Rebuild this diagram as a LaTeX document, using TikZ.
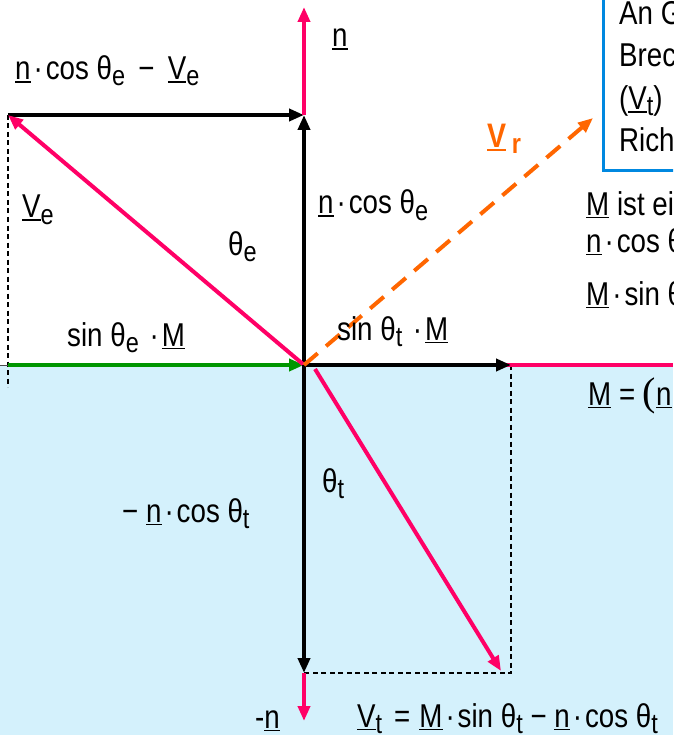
\documentclass[tikz,border=0pt]{standalone}
\usepackage{fontspec}
\setmainfont{Liberation Sans}[FakeStretch=0.84]
\newfontfamily\serifparen{Liberation Serif}
\usetikzlibrary{arrows.meta}
\definecolor{pinkv}{RGB}{255,0,102}
\definecolor{greenv}{RGB}{0,150,0}
\definecolor{orangev}{RGB}{255,102,0}
\definecolor{boxblue}{RGB}{0,136,224}
\definecolor{water}{RGB}{212,241,252}
\newcommand\ul[1]{\vtop{\hbox{#1}\kern1.5pt\hrule height 1.6pt}}
\newcommand\sbx[1]{\raisebox{-6pt}{\fontsize{28}{28}\selectfont #1}}
\newcommand\dt{\hspace{3pt}·\hspace{3pt}}
\begin{document}
\begin{tikzpicture}[x=1pt,y=-1pt,
  lbl/.style={anchor=base west,inner sep=0pt,font=\fontsize{33}{40}\selectfont},
  vec/.style={line width=4pt,-{Triangle[length=15pt,width=12pt]}},
  thindash/.style={line width=1.2pt,dash pattern=on 5pt off 3.5pt},
  rdash/.style={line width=4pt,orangev,dash pattern=on 18pt off 11pt,-{Triangle[length=15pt,width=12pt]}}]
\useasboundingbox (0,0) rectangle (673,735);
\clip (0,0) rectangle (673,735);
% water
\fill[water] (0,366) rectangle (673,735);
% box
\draw[boxblue,line width=3pt] (603,-10) rectangle (720,171);
% coordinates
\coordinate (O) at (304,365);
\coordinate (Ve) at (8,115);
\coordinate (Nc) at (304,115);
\coordinate (Ntip) at (304,7);
\coordinate (Lw) at (8,365);
\coordinate (L0) at (0,365);
\coordinate (Ld) at (8,387);
\coordinate (Rw) at (673,365);
\coordinate (Ms) at (511,365);
\coordinate (Cb) at (511,673);
\coordinate (Nb) at (304,673);
\coordinate (Nbt) at (304,721);
\coordinate (Vt0) at (315,369);
\coordinate (Vt) at (501,671);
\coordinate (Vr) at (593,118);
% dashed helpers
\draw[thindash] (Ve) -- (Ld);
\draw[thindash] (Ms) -- (Cb) -- (Nb);
\draw[gray!60!black,line width=1pt] (L0) -- (Lw);
% surface
\draw[pinkv,line width=4.5pt] (O) -- (Rw);
% vectors
\draw[vec,greenv] (Lw) -- (O);
\draw[vec] (O) -- (Ms);
\draw[vec] (Ve) -- (Nc);
\draw[vec] (O) -- (Nc);
\draw[vec,pinkv] (Nc) -- (Ntip);
\draw[vec,pinkv] (O) -- (Ve);
\draw[vec] (O) -- (Nb);
\draw[vec,pinkv] (Nb) -- (Nbt);
\draw[vec,pinkv] (Vt0) -- (Vt);
\draw[rdash] (O) -- (Vr);
% labels
\node[lbl] (lnTop) at (332,47) {\ul{n}};
\node[lbl] (lnce) at (15,80) {\ul{n}\dt cos θ\sbx{e} \,−\, \ul{V}\sbx{e}};
\node[lbl] (lVe) at (22,218) {\ul{V}\sbx{e}};
\node[lbl] (lthe) at (228,255) {θ\sbx{e}};
\node[lbl] (lsine) at (67,346) {sin θ\sbx{e} \dt\ul{M}};
\node[lbl] (lnce2) at (318,214) {\ul{n}\dt cos θ\sbx{e}};
\node[lbl] (lsint) at (337,340) {sin θ\sbx{t} \dt\ul{M}};
\node[lbl,text=orangev,font=\fontsize{34}{40}\selectfont\bfseries] (lVr) at (487,148) {\ul{V}\,\sbx{r}};
\node[lbl] (b1) at (619,25) {An G};
\node[lbl] (b2) at (619,67) {Brec};
\node[lbl] (b3) at (619,110) {(\ul{V}\sbx{t})};
\node[lbl] (b4) at (619,152) {Rich};
\node[lbl] (lMist) at (586,215) {\ul{M} ist ei};
\node[lbl] (lncos) at (586,252) {\ul{n}\dt cos θ};
\node[lbl] (lMsin) at (586,305) {\ul{M}\dt sin θ};
\node[lbl] (lMeq) at (588,405) {\ul{M} = {\serifparen\fontsize{40}{40}\selectfont(}\ul{n}};
\node[lbl] (ltht) at (322,492) {θ\sbx{t}};
\node[lbl] (lnct) at (122,522) {− \ul{n}\dt cos θ\sbx{t}};
\node[lbl] (lmn) at (255,728) {-\ul{n}};
\node[lbl] (lVt) at (357,727) {\ul{V}\sbx{t}\hspace{12pt}=\hspace{9pt}\ul{M}\dt sin θ\sbx{t} − \ul{n}\dt cos θ\sbx{t}};
\end{tikzpicture}
\end{document}
